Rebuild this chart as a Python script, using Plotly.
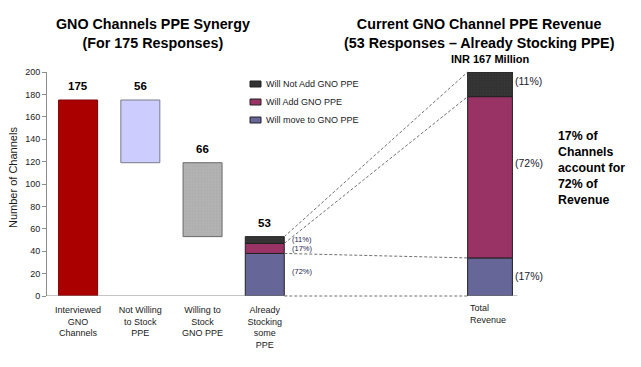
import plotly.graph_objects as go
import numpy as np

# ---------------- data ----------------
categories = ["Interviewed<br>GNO<br>Channels", "Not Willing<br>to Stock<br>PPE",
              "Willing to<br>Stock<br>GNO PPE", "Already<br>Stocking<br>some<br>PPE"]
channel_counts = [175, 56, 66, 53]
segment_names = ["Will move to GNO PPE", "Will Add GNO PPE", "Will Not Add GNO PPE"]
stocking_channels = [38, 9, 6]
stocking_pct_labels = ["(72%)", "(17%)", "(11%)"]
revenue_share = [17, 72, 11]
revenue_labels = ["(17%)", "(72%)", "(11%)"]
revenue_category = "Total<br>Revenue"
revenue_total_label = "INR 167 Million"
left_title = "<b>GNO Channels PPE Synergy<br>(For 175 Responses)</b>"
right_title = "<b>Current GNO Channel PPE Revenue<br>(53 Responses \u2013 Already Stocking PPE)</b>"
side_note = "<b>17% of<br>Channels<br>account for<br>72% of<br>Revenue</b>"
y_title = "Number of Channels"

# ---------------- styles ----------------
OFF = 8  # page body margin
W, H = 641 - OFF, 367 - OFF
ML, MR, MT = 47 - OFF, 34, 72 - OFF
PW, PH = W - ML - MR, 224
MB = H - MT - PH
FONT = "Liberation Sans, Arial, sans-serif"
TXT = "#1a1a1a"
bar_colors = ["#AA0000", "#CCCCFF", "#B2B2B2"]
bar_lines = ["#7a0000", "#7a7a8a", "#6a6a6a"]
bar_pattern_fg = ["#AA0000", "#CCCCFF", "#a4a4a4"]
seg_colors = ["#666699", "#993366", "#333333"]
left_w = 0.627
rev_x = 6.62
rev_w = 0.72
Y1MAX, Y2MAX = 200, 100


def px(xp):
    return (xp - OFF - ML) / PW


def py(yp):
    return 1 - (yp - OFF - MT) / PH


fig = go.Figure()

# waterfall bars (first three)
tops, bases = [], []
level = 0
for i, v in enumerate(channel_counts[:3]):
    if i == 0:
        base = 0
        level = v
    else:
        base = level - v
        level = base
    bases.append(base)
    tops.append(base + v)

patterns = ["", "", "."]
for i in range(3):
    fig.add_trace(go.Bar(
        x=[i], y=[channel_counts[i]], base=[bases[i]], width=left_w,
        marker=dict(color=bar_colors[i], line=dict(color=bar_lines[i], width=1),
                    pattern=dict(shape=patterns[i], fgcolor=bar_pattern_fg[i], size=3, solidity=0.2)),
        showlegend=False, hoverinfo="skip"))

# stacked bar of already stocking channels
cum = np.concatenate([[0], np.cumsum(stocking_channels)])
for k, name in enumerate(segment_names):
    fig.add_trace(go.Bar(
        x=[3], y=[stocking_channels[k]], base=[cum[k]], width=left_w, name=name,
        marker=dict(color=seg_colors[k], line=dict(color="#222222", width=1),
                    pattern=dict(shape="." if k == 2 else "", fgcolor="#404040", size=3, solidity=0.2)),
        showlegend=False, hoverinfo="skip"))

# revenue stacked bar (secondary y axis, percent)
rcum = np.concatenate([[0], np.cumsum(revenue_share)])
for k, name in enumerate(segment_names):
    fig.add_trace(go.Bar(
        x=[rev_x], y=[revenue_share[k]], base=[rcum[k]], width=rev_w, yaxis="y2",
        marker=dict(color=seg_colors[k], line=dict(color="#222222", width=1),
                    pattern=dict(shape="." if k == 2 else "", fgcolor="#404040", size=3, solidity=0.2)),
        showlegend=False, hoverinfo="skip"))

shapes = []
b4_right = 3 + left_w / 2
rv_left = rev_x - rev_w / 2
rv_right = rev_x + rev_w / 2
# connectors (dashed) between stacks
for ll, rl in zip(cum, rcum):
    shapes.append(dict(type="line", xref="x", yref="y domain",
                       x0=b4_right, y0=ll / Y1MAX, x1=rv_left, y1=rl / Y2MAX,
                       line=dict(color="#707070", width=1, dash="3px,2px")))
# baselines (solid)
shapes.append(dict(type="line", xref="x", yref="y", x0=-0.5, x1=b4_right + 0.05, y0=0, y1=0,
                   line=dict(color="#8c8c8c", width=1.2)))
shapes.append(dict(type="line", xref="x", yref="y", x0=rv_left, x1=rv_right + 0.08, y0=0, y1=0,
                   line=dict(color="#8c8c8c", width=1.2)))

annotations = []
# value labels
all_tops = tops + [cum[-1]]
for i, v in enumerate(channel_counts):
    annotations.append(dict(x=i, y=all_tops[i], xref="x", yref="y", text=f"<b>{v}</b>",
                            showarrow=False, yshift=14, font=dict(size=11.5, color="#000", family=FONT)))
# percent labels on left stack
lshift = [3, 0, 1]
for k in range(3):
    annotations.append(dict(x=b4_right, y=(cum[k] + cum[k + 1]) / 2, xref="x", yref="y",
                            text=stocking_pct_labels[k], showarrow=False, xanchor="left", xshift=6,
                            yshift=lshift[k], font=dict(size=7.5, color="#23234a", family=FONT)))
# percent labels on revenue stack
rshift = [1, 14, 3]
for k in range(3):
    annotations.append(dict(x=rv_right, y=(rcum[k] + rcum[k + 1]) / 2, xref="x", yref="y2",
                            text=revenue_labels[k], showarrow=False, xanchor="left", xshift=1,
                            yshift=rshift[k], font=dict(size=10.5, color="#1a1a2e", family=FONT)))
# Total revenue label
annotations.append(dict(x=rv_left, y=0, xref="x", yref="y", text=revenue_category, align="left",
                        xanchor="left", yanchor="top", yshift=-5, xshift=0, showarrow=False,
                        font=dict(size=9, color=TXT, family=FONT)))
# INR label
annotations.append(dict(x=rev_x, y=Y2MAX, xref="x", yref="y2", text=f"<b>{revenue_total_label}</b>",
                        showarrow=False, yshift=13, font=dict(size=11, color="#000", family=FONT)))
# titles
annotations.append(dict(x=px(152.5), y=py(33), xref="paper", yref="paper", text=left_title,
                        xanchor="center", yanchor="middle",
                        showarrow=False, font=dict(size=14.3, color="#000", family=FONT)))
annotations.append(dict(x=px(479), y=py(33), xref="paper", yref="paper", text=right_title,
                        xanchor="center", yanchor="middle",
                        showarrow=False, font=dict(size=14.3, color="#000", family=FONT)))
annotations.append(dict(x=px(556), y=py(168), xref="paper", yref="paper", text=side_note,
                        align="left", xanchor="left", yanchor="middle", showarrow=False,
                        font=dict(size=12.3, color="#000", family=FONT)))
annotations.append(dict(x=px(13), y=py(178), xref="paper", yref="paper", text=y_title,
                        xanchor="center", yanchor="middle",
                        textangle=-90, showarrow=False, font=dict(size=11, color=TXT, family=FONT)))
# manual legend
leg_y = [120, 102, 84]
for k, name in enumerate(segment_names):
    shapes.append(dict(type="rect", xref="paper", yref="paper",
                       x0=px(250), x1=px(261), y0=py(leg_y[k] - 3), y1=py(leg_y[k] + 3),
                       fillcolor=seg_colors[k], line=dict(color="#222222", width=1)))
    annotations.append(dict(x=px(264), y=py(leg_y[k]), xref="paper", yref="paper", text=name,
                            xanchor="left", yanchor="middle", showarrow=False,
                            font=dict(size=9, color=TXT, family=FONT)))

fig.update_layout(
    width=W, height=H, margin=dict(l=ML, r=MR, t=MT, b=MB, autoexpand=False),
    plot_bgcolor="white", paper_bgcolor="white", barmode="overlay",
    font=dict(family=FONT, color=TXT),
    xaxis=dict(range=[-0.5, 8.5], tickvals=[0, 1, 2, 3], ticktext=categories, showline=False,
               zeroline=False, showgrid=False, ticks="outside", ticklen=5,
               tickcolor="rgba(0,0,0,0)", automargin=False,
               tickfont=dict(size=9, color=TXT, family=FONT)),
    yaxis=dict(range=[0, Y1MAX], dtick=20, showline=True, linecolor="#8c8c8c", linewidth=1,
               ticks="outside", ticklen=4, tickcolor="#8c8c8c", showgrid=False, zeroline=False,
               automargin=False, tickfont=dict(size=9, color=TXT, family=FONT)),
    yaxis2=dict(range=[0, Y2MAX], overlaying="y", visible=False),
    shapes=shapes, annotations=annotations, showlegend=False,
)

fig.write_html("out.html")
